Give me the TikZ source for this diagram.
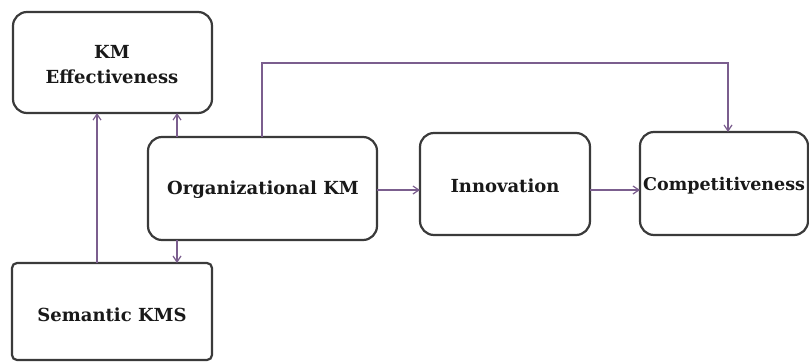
\documentclass[tikz,border=0pt]{standalone}
\usepackage{fontspec}
\setmainfont{DejaVu Serif}
\usetikzlibrary{arrows.meta}
\definecolor{boxline}{HTML}{3A3A3A}
\definecolor{conn}{HTML}{7B5E8E}
\begin{document}
\begin{tikzpicture}[x=1pt,y=-1pt,
  boxstyle/.style={draw=boxline,line width=2.2pt,rounded corners=14pt,fill=white},
  sqbox/.style={draw=boxline,line width=2.2pt,rounded corners=5pt,fill=white},
  lbl/.style={font=\fontsize{18}{25}\selectfont\bfseries,text=black!90,align=center,inner sep=0pt},
  connector/.style={draw=conn,line width=1.2pt,-{Straight Barb[length=6pt,width=8pt,line width=1.2pt]}}]
\useasboundingbox (0,0) rectangle (809,362);
% boxes
\draw[boxstyle] (13,12) rectangle (212,113);
\node[lbl] (kme) at (112,65) {KM\\Effectiveness};
\coordinate (kmeA) at (97,113);
\coordinate (kmeB) at (177,113);
\draw[boxstyle] (148,137) rectangle (377,240);
\node[lbl] (okm) at (263,190) {Organizational KM};
\coordinate (okmT) at (177,137);
\coordinate (okmB) at (177,240);
\coordinate (okmTop) at (262,137);
\coordinate (okmR) at (377,190);
\draw[sqbox] (12,263) rectangle (212,360);
\node[lbl] (skms) at (112,315) {Semantic KMS};
\coordinate (skmsT) at (97,263);
\coordinate (skmsT2) at (177,263);
\draw[boxstyle] (420,133) rectangle (590,235);
\node[lbl] (inn) at (505,186) {Innovation};
\coordinate (innL) at (420,190);
\coordinate (innR) at (590,190);
\draw[boxstyle] (640,132) rectangle (808,235);
\node[lbl,font=\fontsize{17.5}{25}\selectfont\bfseries,anchor=west] (comp) at (643,186) {Competitiveness};
\coordinate (compL) at (640,190);
\coordinate (compT) at (728,132);
\coordinate (corner1) at (262,63);
\coordinate (corner2) at (728,63);
% connectors
\draw[connector] (skmsT) -- (kmeA);
\draw[connector] (okmT) -- (kmeB);
\draw[connector] (okmB) -- (skmsT2);
\draw[connector] (okmR) -- (innL);
\draw[connector] (innR) -- (compL);
\draw[connector] (okmTop) -- (corner1) -- (corner2) -- (compT);
\end{tikzpicture}
\end{document}
